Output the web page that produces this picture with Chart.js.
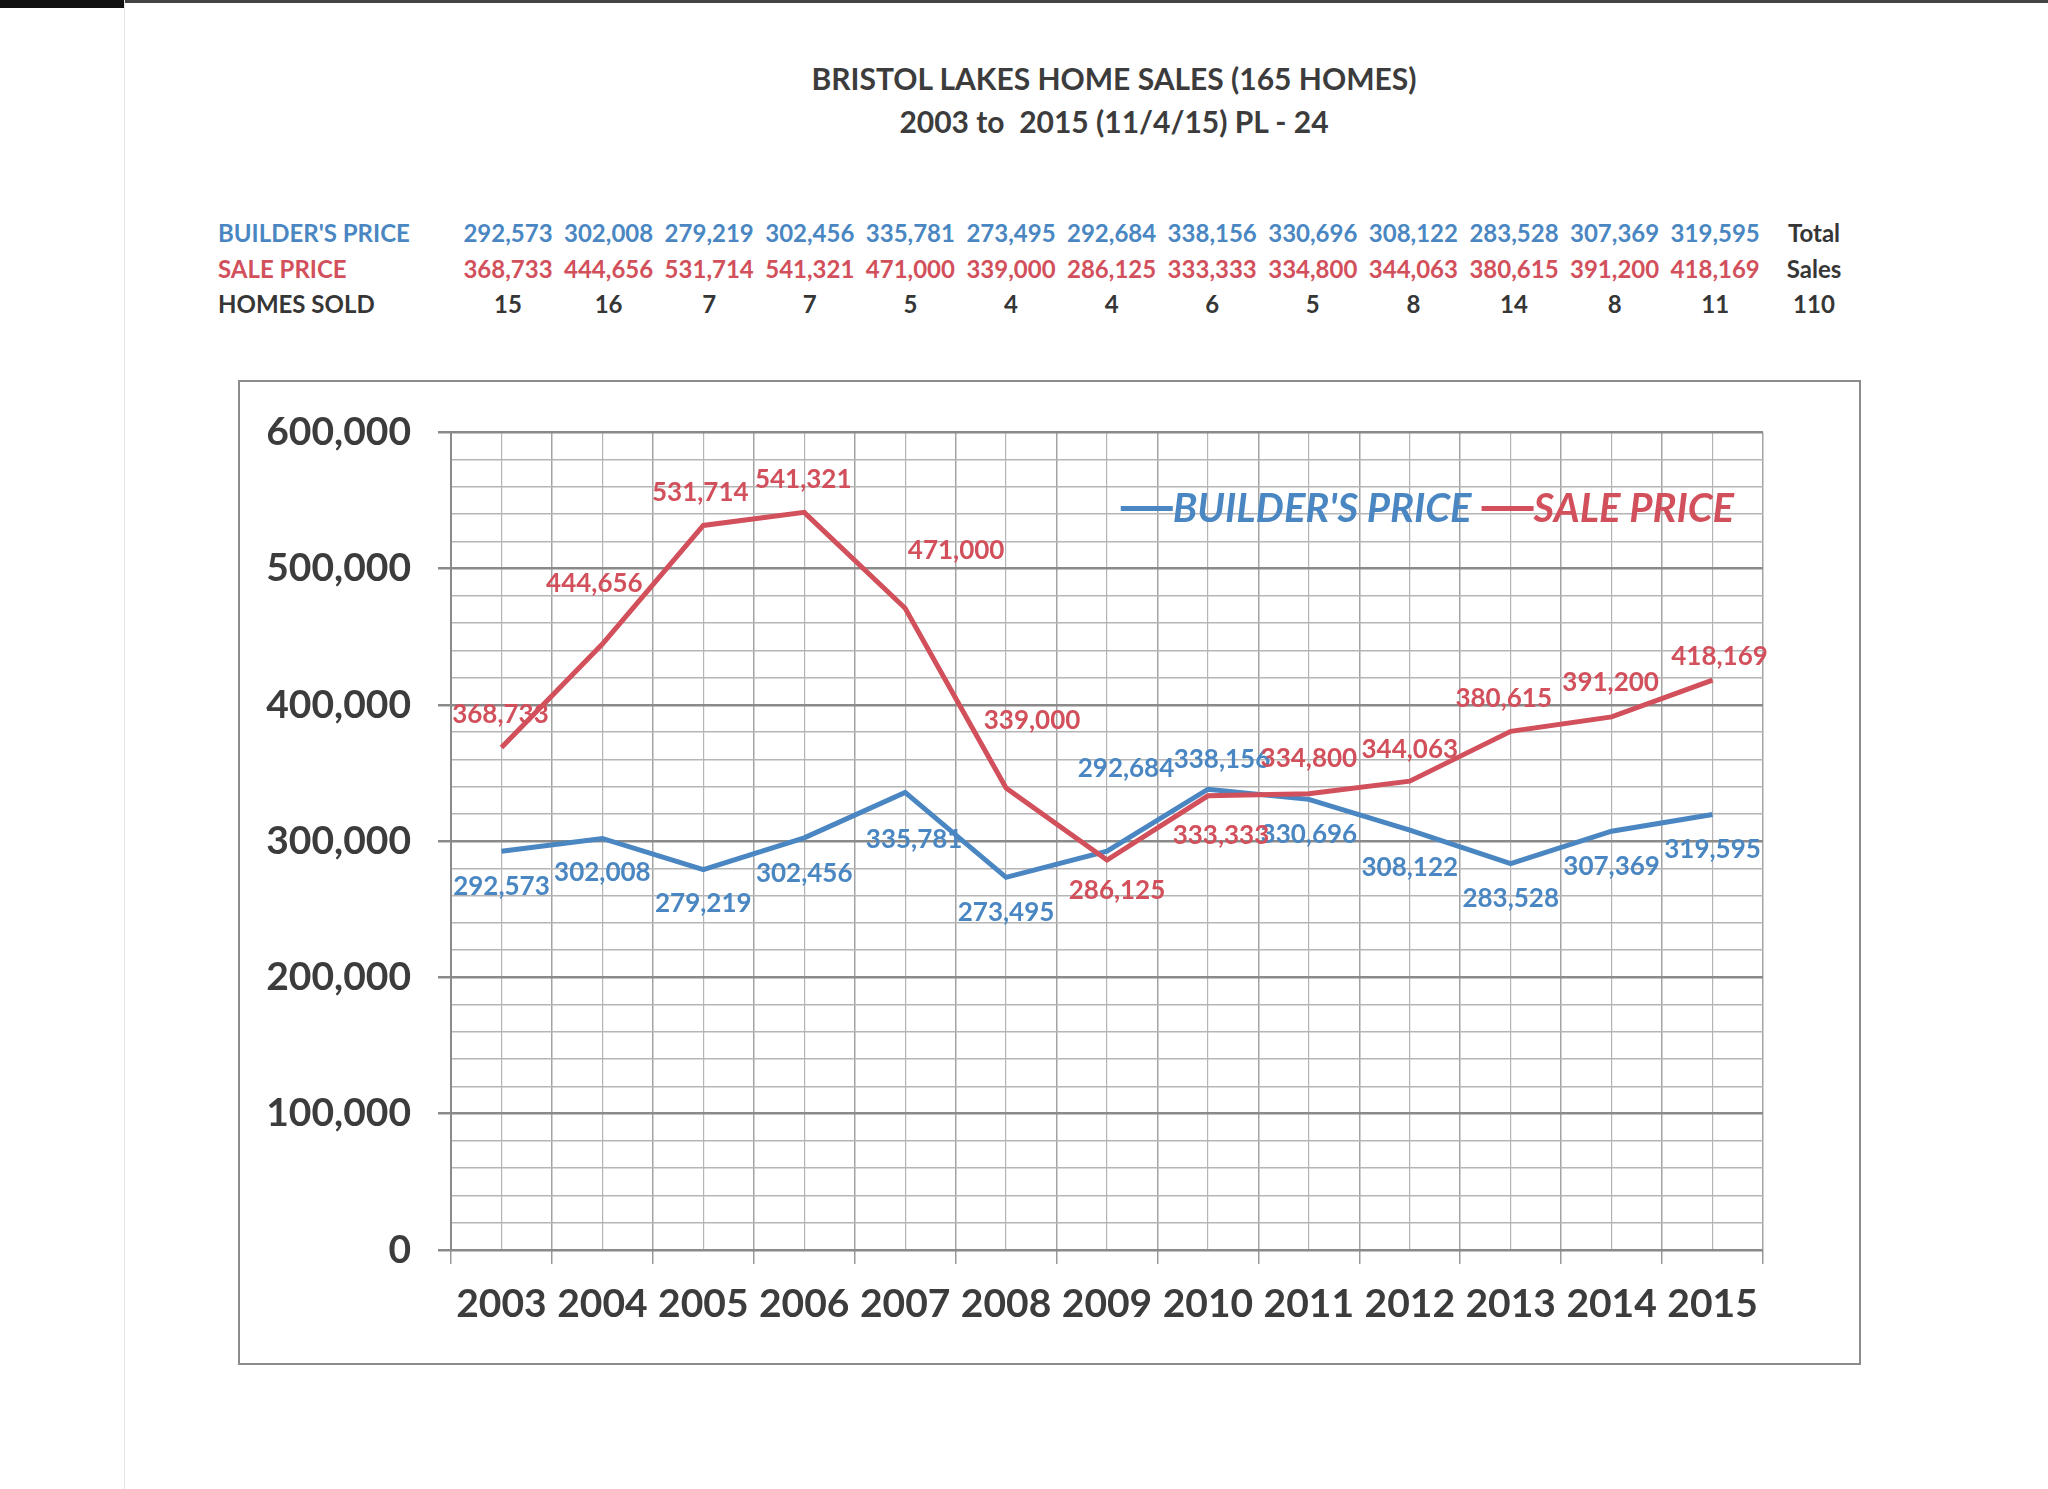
<!DOCTYPE html>
<html lang="en">
	<head>
		<meta charset="utf-8">
		<title>Bristol Lakes Home Sales</title>
		<script src="https://cdn.jsdelivr.net/npm/chart.js"></script>
		<style>
			html, body {
				margin: 0;
				padding: 0;
				background-color: #FFF;
			}
			body {
				position: relative;
				width: 2048px;
				height: 1489px;
				overflow: hidden;
				font-family: Lato, "Open Sans", sans-serif;
				font-weight: bold;
			}
			#topedge {
				position: absolute; left: 0; top: 0; width: 2048px; height: 3px; background: #444;
			}
			#topbar {
				position: absolute; left: 0; top: 0; width: 124px; height: 8px; background: #111;
			}
			#leftedge {
				position: absolute; left: 124px; top: 0; width: 1px; height: 1489px; background: #e4e4e4;
			}
			.title {
				position: absolute; left: 1114px; transform: translate(-50%, -50%);
				font-size: 30px; color: #3c3c3c; white-space: pre;
			}
			.cell {
				position: absolute; transform: translate(-50%, -50%);
				font-size: 24px; white-space: pre;
			}
			.rowlabel {
				position: absolute; left: 218px; transform: translateY(-50%);
				font-size: 24px; white-space: pre;
			}
			#box {
				position: absolute; left: 238px; top: 380px; width: 1623px; height: 985px;
				border: 2px solid #8c8c8c; box-sizing: border-box;
			}
			#wrap {
				position: absolute; left: 0; top: 0; right: 0; bottom: 0;
			}
		</style>
	</head>
	<body>
		<div id="topedge"></div>
		<div id="topbar"></div>
		<div id="leftedge"></div>
		<div class="title" style="top: 78px;">BRISTOL LAKES HOME SALES (165 HOMES)</div>
		<div class="title" style="top: 121px;">2003 to  2015 (11/4/15) PL - 24</div>
		<div id="table"></div>
		<div id="box"><div id="wrap"><canvas id="stats"></canvas></div></div>

		<script>
			const years = ["2003", "2004", "2005", "2006", "2007", "2008", "2009", "2010", "2011", "2012", "2013", "2014", "2015"];
			const builderPrice = [292573, 302008, 279219, 302456, 335781, 273495, 292684, 338156, 330696, 308122, 283528, 307369, 319595];
			const salePrice = [368733, 444656, 531714, 541321, 471000, 339000, 286125, 333333, 334800, 344063, 380615, 391200, 418169];
			const homesSold = [15, 16, 7, 7, 5, 4, 4, 6, 5, 8, 14, 8, 11];
			const totalsColumn = ["Total", "Sales", "110"];

			const BLUE = "#4a87c2";
			const RED = "#d2505b";
			const DARK = "#363636";

			// number table above the chart
			const fmt = v => v.toLocaleString("en-US");
			const rows = [
				{ label: "BUILDER'S PRICE", color: BLUE, values: builderPrice.map(fmt), y: 232 },
				{ label: "SALE PRICE", color: RED, values: salePrice.map(fmt), y: 268 },
				{ label: "HOMES SOLD", color: DARK, values: homesSold.map(String), y: 303 }
			];
			let html = "";
			rows.forEach((row, r) => {
				html += '<div class="rowlabel" style="top:' + row.y + 'px;color:' + row.color + '">' + row.label + "</div>";
				row.values.forEach((v, i) => {
					html += '<div class="cell" style="left:' + (508 + i * 100.6) + "px;top:" + row.y + "px;color:" + row.color + '">' + v + "</div>";
				});
				html += '<div class="cell" style="left:1814px;top:' + row.y + "px;color:" + DARK + '">' + totalsColumn[r] + "</div>";
			});
			document.getElementById("table").innerHTML = html;

			// label offsets [dx, dy] relative to each point
			const labelOffsets = {
				builder: [[0, 35], [0, 34], [0, 34], [0, 36], [9, 47], [0, 35], [19, -83], [14, -30], [0, 35], [0, 37], [0, 35], [0, 35], [0, 35]],
				sale: [[-1, -33], [-8, -60], [-3, -33], [-1, -33], [51, -58], [26, -67], [10, 31], [13, 40], [0, -35], [0, -32], [-7, -33], [-1, -34], [7, -24]]
			};

			const pointLabels = {
				id: "pointLabels",
				afterDatasetsDraw(chart) {
					const ctx = chart.ctx;
					ctx.save();
					ctx.font = "bold 26px Lato";
					ctx.textAlign = "center";
					ctx.textBaseline = "middle";
					chart.data.datasets.forEach((ds, d) => {
						const meta = chart.getDatasetMeta(d);
						const offs = labelOffsets[ds.key];
						ctx.fillStyle = ds.borderColor;
						meta.data.forEach((pt, i) => {
							ctx.fillText(fmt(ds.data[i]), pt.x + offs[i][0], pt.y + offs[i][1]);
						});
					});

					// legend inside the plot, top right
					const area = chart.chartArea;
					ctx.font = "italic bold 40px Lato";
					ctx.textAlign = "left";
					const lineLen = 52, gap = 10;
					const items = chart.data.datasets.map(ds => ({ text: ds.label, color: ds.borderColor, w: ctx.measureText(ds.label).width }));
					let total = items.reduce((s, it) => s + lineLen + it.w, 0) + gap * (items.length - 1);
					let x = area.right - 29 - total;
					const y = area.top + 76;
					items.forEach(it => {
						ctx.strokeStyle = it.color;
						ctx.lineWidth = 5;
						ctx.beginPath();
						ctx.moveTo(x, y);
						ctx.lineTo(x + lineLen, y);
						ctx.stroke();
						ctx.fillStyle = it.color;
						ctx.fillText(it.text, x + lineLen, y + 1);
						x += lineLen + it.w + gap;
					});
					ctx.restore();
				}
			};

			const config = {
				type: "line",
				data: {
					labels: years,
					datasets: [{
						key: "builder",
						label: "BUILDER'S PRICE",
						data: builderPrice,
						borderColor: BLUE,
						backgroundColor: BLUE,
						borderWidth: 5,
						pointRadius: 0,
						order: 1
					}, {
						key: "sale",
						label: "SALE PRICE",
						data: salePrice,
						borderColor: RED,
						backgroundColor: RED,
						borderWidth: 5,
						pointRadius: 0,
						order: 0
					}]
				},
				options: {
					responsive: true,
					maintainAspectRatio: false,
					animation: false,
					layout: { padding: { left: 10, right: 96, top: 42, bottom: 0 } },
					plugins: {
						legend: { display: false },
						tooltip: { enabled: false }
					},
					scales: {
						x: {
							type: "category",
							offset: true,
							grid: { offset: true, color: "#a3a3a3", lineWidth: 1.5, tickLength: 14, tickColor: "#999" },
							border: { display: false },
							ticks: { font: { family: "Lato", weight: "bold", size: 39 }, color: "#3c3c3c", padding: 17 },
							afterFit(s) { s.height = 113; }
						},
						xMid: {
							type: "category",
							position: "top",
							offset: true,
							grid: { offset: false, color: "#b4b4b4", lineWidth: 1.2, drawTicks: false },
							border: { display: false },
							ticks: { display: false },
							afterFit(s) { s.height = 0; }
						},
						y: {
							min: 0,
							max: 600000,
							ticks: {
								stepSize: 20000,
								autoSkip: false,
								padding: 27,
								font: { family: "Lato", weight: "bold", size: 39 },
								color: "#3c3c3c",
								callback: v => (v % 100000 === 0 ? fmt(v) : "")
							},
							grid: {
								color: c => (c.tick.value % 100000 === 0 ? "#8a8a8a" : "#b5b5b5"),
								lineWidth: c => (c.tick.value % 100000 === 0 ? 2.5 : 1.5),
								tickColor: c => (c.tick.value % 100000 === 0 ? "#8a8a8a" : "rgba(0,0,0,0)"),
								tickLength: 13
							},
							border: { color: "#8a8a8a", width: 2 },
							afterFit(s) { s.width = 201; }
						}
					}
				},
				plugins: [pointLabels]
			};

			document.fonts.load("bold 26px Lato").then(() => document.fonts.load("italic bold 40px Lato")).finally(() => {
				new Chart(document.getElementById("stats"), config);
			});
		</script>
	</body>
</html>
